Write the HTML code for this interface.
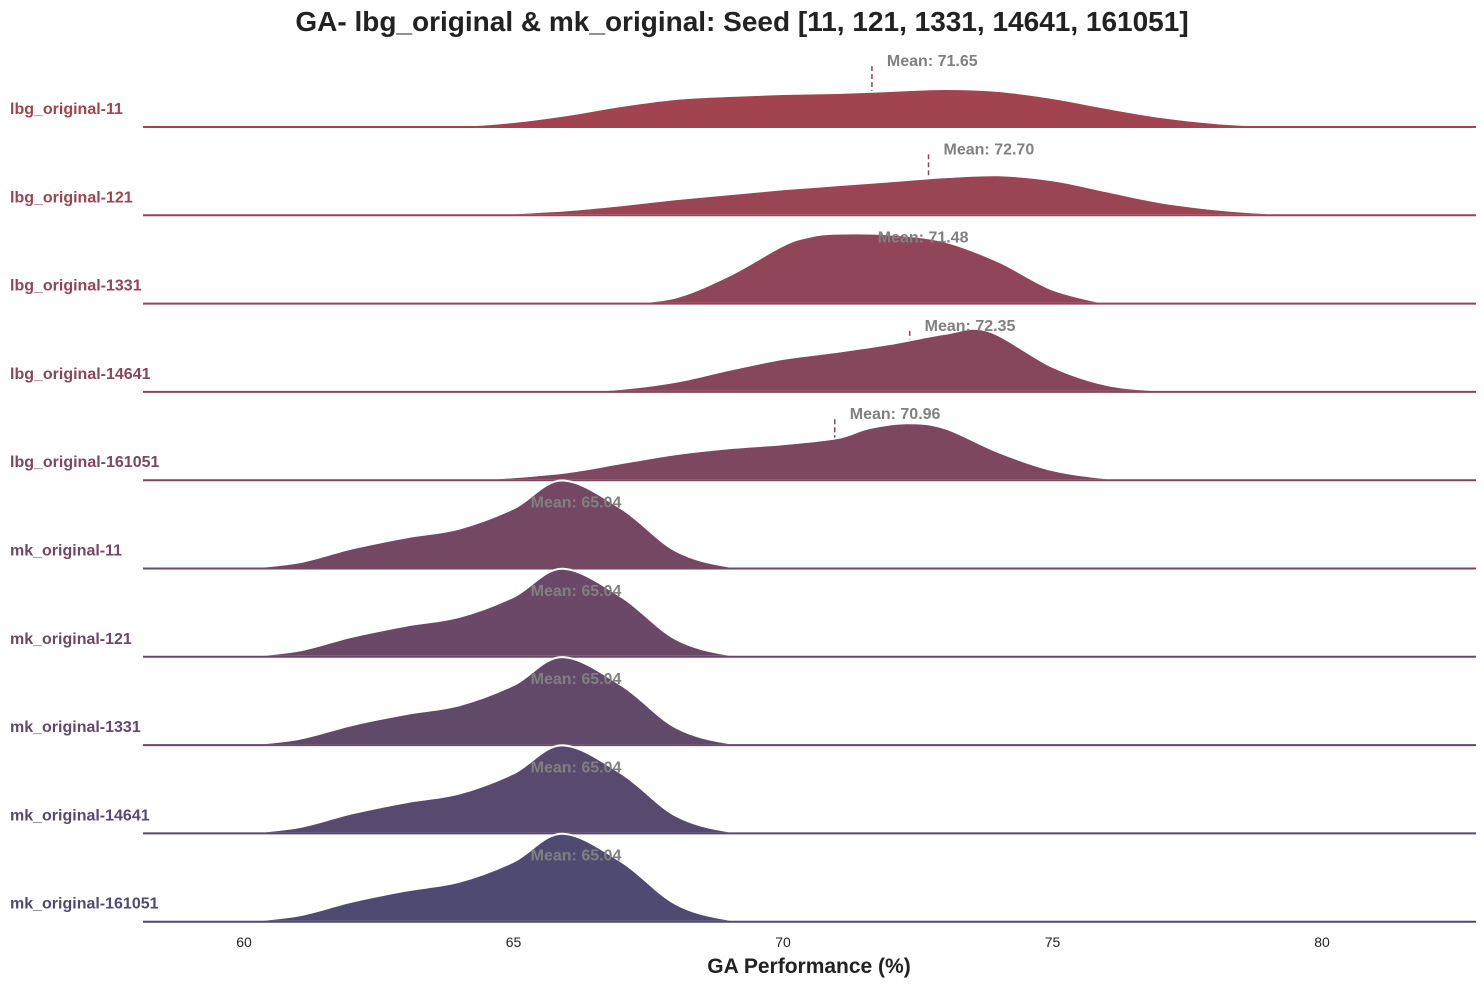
<!DOCTYPE html>
<html><head><meta charset="utf-8"><style>
body{margin:0;background:#fff;font-family:"Liberation Sans",Arial,sans-serif}
</style></head><body>
<svg id="chart" width="1484" height="985" xmlns="http://www.w3.org/2000/svg" font-family="Liberation Sans, Arial, sans-serif">
<text x="742" y="31" text-anchor="middle" font-size="28" font-weight="bold" fill="#222">GA- lbg_original &amp; mk_original: Seed [11, 121, 1331, 14641, 161051]</text>
<text x="809" y="973" text-anchor="middle" font-size="21" font-weight="bold" fill="#222">GA Performance (%)</text>
<g id="rows"></g><g id="texts"></g><g id="ticks"></g>
</svg>
<script>
const labels=["lbg_original-11","lbg_original-121","lbg_original-1331","lbg_original-14641","lbg_original-161051","mk_original-11","mk_original-121","mk_original-1331","mk_original-14641","mk_original-161051"];
const means=[71.65,72.70,71.48,72.35,70.96,65.04,65.04,65.04,65.04,65.04];
const lbg11X=[63,64,65,66,67,68,69,70,71,72,73,74,75,76,77,78,79,80];
const lbg11Y=[0,1,5,12,21,28,31,33,34,36,38,36,29,19,10,4,1,0];
const lbg121X=[64,65,66,67,68,69,70,71,72,73,74,75,76,77,78,79,80];
const lbg121Y=[0,2,5,10,16,21,26,30,34,38,40,35,24,13,6,2,0];
const lbg1331X=[67,68,69,70,70.5,71,72,73,74,75,76];
const lbg1331Y=[0,6,28,58,67,70,69,62,42,14,0];
const lbg14641X=[66,67,68,69,70,71,72,73,73.8,75,76,77,78];
const lbg14641Y=[0,3,10,22,33,40,48,58,61,25,7,1.5,0];
const lbg161051X=[64,65,66,67,68,69,70,71,71.6,72.3,73,74,75,76,77];
const lbg161051Y=[0,3,8,17,26,32,36,42,52,57,52,28,10,2,0];
const mkX=[59.5,60,61,62,63,64,65,65.9,67,68,69,70];
const mkY=[0,0.5,6,20,31,40,60,88,60,18,2,0];
const seriesX=[lbg11X,lbg121X,lbg1331X,lbg14641X,lbg161051X,mkX,mkX,mkX,mkX,mkX];
const seriesY=[lbg11Y,lbg121Y,lbg1331Y,lbg14641Y,lbg161051Y,mkY,mkY,mkY,mkY,mkY];
const ticks=[60,65,70,75,80];
const xs=v=>244+(v-60)*53.9;
const base=i=>127+i*88.3;
const hs=d=>d;
const c0=[162,68,80],c1=[79,74,114];
const col=i=>{const t=i/9;return `rgb(${c0.map((c,k)=>Math.round(c+(c1[k]-c)*t)).join(',')})`;};
const NS="http://www.w3.org/2000/svg";
const rows=document.getElementById('rows'),texts=document.getElementById('texts'),tk=document.getElementById('ticks');
function mk(tag,attrs,parent){const e=document.createElementNS(NS,tag);for(const k in attrs)e.setAttribute(k,attrs[k]);parent.appendChild(e);return e;}
function pathFor(px,py){let d=`M${px[0]},${py[0]}`;for(let i=0;i<px.length-1;i++){const p0=i?i-1:0,p3=Math.min(i+2,px.length-1);
const c1x=px[i]+(px[i+1]-px[p0])/6,c1y=py[i]+(py[i+1]-py[p0])/6,c2x=px[i+1]-(px[p3]-px[i])/6,c2y=py[i+1]-(py[p3]-py[i])/6;
d+=` C${c1x},${c1y} ${c2x},${c2y} ${px[i+1]},${py[i+1]}`;}return d;}
labels.forEach((lab,i)=>{
  const b=base(i),c=col(i);
  const g=mk('g',{},rows);
  
  
  const ml=mk('line',{x1:xs(means[i]),x2:xs(means[i]),y1:b-61,y2:b,stroke:c,'stroke-width':1.5,'stroke-dasharray':'5,3'},g);
  
  
  const px=seriesX[i].map(xs),py=seriesY[i].map(v=>b-hs(v));
  const d=pathFor(px,py);
  const f=mk('path',{d:`M143,${b} L${px[0]},${b} `+d.slice(1).replace(/^[^C]*/,'L'+px[0]+','+py[0]+' ')+` L1476,${b} Z`,fill:c,stroke:'#fff','stroke-width':2},g);
  
  
  const bl=mk('line',{x1:143,x2:1476,y1:b,y2:b,stroke:c,'stroke-width':2},g);
  
  
  const t=mk('text',{x:10,y:b-13,'font-size':16,'font-weight':'bold',fill:c},texts);t.textContent=lab;
  
  
  const mt=mk('text',{x:xs(means[i])+15,y:b-61,'font-size':16,'font-weight':'bold',fill:'#808080'},texts);mt.textContent='Mean: '+means[i].toFixed(2);
  
  
});
ticks.forEach(v=>{const t=mk('text',{x:xs(v),y:947,'text-anchor':'middle','font-size':14,fill:'#222'},tk);t.textContent=v;
  
  });
</script>
</body></html>
